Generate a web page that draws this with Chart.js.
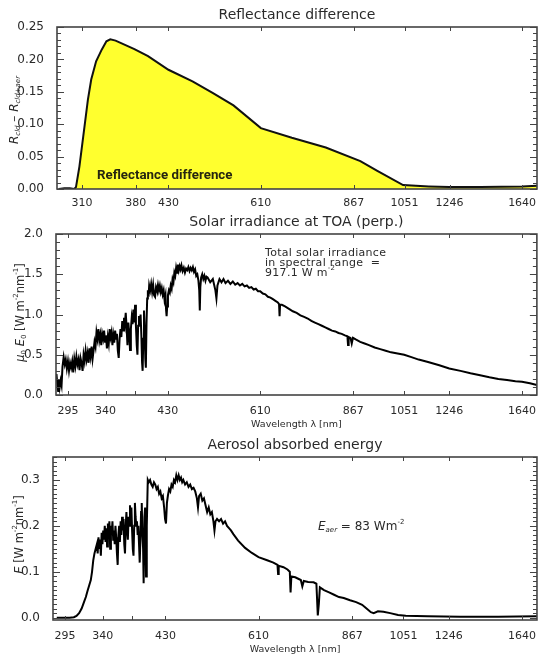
<!DOCTYPE html>
<html>
<head>
<meta charset="utf-8">
<script src="https://cdn.jsdelivr.net/npm/chart.js@4.4.1/dist/chart.umd.min.js"></script>
<style>
  body { margin: 0; background: #fff; }
  #wrap { position: relative; width: 538px; height: 655px; overflow: hidden; background: #fff; }
  canvas { position: absolute; left: 0; }
</style>
</head>
<body>
<div id="wrap">
  <canvas id="reflChart" width="538" height="210" style="top:0"></canvas>
  <canvas id="solarChart" width="538" height="225" style="top:205px"></canvas>
  <canvas id="aerChart" width="538" height="225" style="top:430px"></canvas>
</div>
<script>
// band centres used as x tick labels (nm)
const reflBands = [310, 380, 430, 610, 867, 1051, 1246, 1640];
const specBands = [295, 340, 380, 430, 610, 867, 1051, 1246, 1640];
const specLabels = ['295', '340', '', '430', '610', '867', '1051', '1246', '1640'];

// top panel: reflectance difference R_cld - R_cld+aer
const reflWl  = [284, 290, 296, 301, 303, 307, 313, 317, 321, 327, 334, 340, 345, 352, 378, 398, 430, 471, 509, 550, 610, 686, 780, 889, 948, 1045, 1152, 1245, 1400, 1640, 1735];
const reflVal = [0.000, 0.001, 0.001, 0.000, 0.003, 0.035, 0.097, 0.138, 0.169, 0.197, 0.215, 0.228, 0.231, 0.229, 0.216, 0.205, 0.184, 0.166, 0.148, 0.129, 0.094, 0.079, 0.064, 0.043, 0.028, 0.006, 0.004, 0.003, 0.003, 0.004, 0.005];

// middle panel: solar irradiance at TOA (W m-2 nm-1)
const solarWl = [
    282.5, 283.5, 284.3, 285.2, 286.0, 287.0, 288.0, 289.0, 290.3, 291.5, 292.6, 293.8, 295.0, 296.2, 297.4, 298.6, 299.8,
    301.0, 302.2, 303.4, 304.6, 305.8, 307.0, 308.2, 309.4, 310.6, 311.8, 313.0, 314.2, 315.4, 316.6, 317.8, 319.0,
    320.2, 321.4, 322.6, 323.8, 325.0, 326.2, 327.4, 328.6, 329.8, 331.0, 332.2, 333.4, 334.6, 335.8, 337.0, 338.2,
    339.4, 340.6, 341.8, 343.0, 344.2, 345.4, 346.6, 347.8, 349.0, 350.2, 351.4, 352.6, 353.8, 355.0, 356.2, 357.4,
    358.6, 359.8, 361.0, 362.2, 363.4, 364.6, 365.8, 367.0, 368.2, 369.4, 370.6, 371.8, 373.0, 374.2, 375.4, 376.6,
    377.8, 379.0, 380.2, 381.4, 382.6, 383.6, 384.6, 385.8, 387.0, 388.2, 389.4, 390.4, 391.2, 392.2, 393.2, 394.2,
    395.2, 396.0, 397.0, 398.0, 399.0, 400.0, 401.0, 402.5, 404.0, 405.5, 407.0, 408.5, 410.0, 411.5, 413.0, 414.5,
    416.0, 417.5, 419.0, 420.5, 422.0, 423.5, 425.0, 426.5, 427.5, 428.3, 429.2, 430.5, 432.0, 433.5, 435.0, 436.5,
    438.0, 439.5, 441.0, 442.5, 444.0, 445.5, 447.0, 448.5, 450.0, 451.5, 453.0, 455.0, 457.0, 459.0, 461.0, 463.0,
    465.0, 467.0, 469.0, 471.0, 473.0, 475.0, 477.0, 479.0, 481.0, 483.0, 484.5, 485.5, 486.5, 488.0, 490.0, 492.0,
    494.0, 496.0, 498.0, 500, 505, 510, 515, 517, 519, 523, 527, 531, 535, 540, 545, 550, 555, 560, 565, 570, 575,
    580, 585, 590, 595, 600, 605, 610, 616, 622, 628, 634, 640, 646, 652, 655, 656.3, 657.5, 662, 670, 680, 690, 700,
    710, 720, 730, 740, 750, 760, 770, 780, 790, 800, 810, 820, 830, 840, 848, 850, 852, 858, 862, 866, 875, 890,
    905, 920, 940, 960, 980, 1000, 1025, 1051, 1080, 1110, 1150, 1200, 1246, 1300, 1350, 1400, 1450, 1500, 1550,
    1600, 1640, 1690, 1735];
const solarVal = [
    0.26, 0.12, 0.05, 0.20, 0.10, 0.18, 0.12, 0.35, 0.47, 0.38, 0.44, 0.33, 0.42, 0.30, 0.40, 0.34, 0.42,
    0.28, 0.45, 0.36, 0.48, 0.38, 0.44, 0.31, 0.46, 0.40, 0.30, 0.50, 0.42, 0.55, 0.44, 0.52, 0.40,
    0.58, 0.48, 0.60, 0.45, 0.55, 0.66, 0.60, 0.78, 0.70, 0.82, 0.68, 0.75, 0.62, 0.76, 0.70, 0.80,
    0.66, 0.74, 0.58, 0.72, 0.64, 0.82, 0.72, 0.78, 0.62, 0.74, 0.65, 0.80, 0.70, 0.76, 0.55, 0.46,
    0.70, 0.82, 0.72, 0.92, 0.80, 0.96, 0.88, 1.02, 0.84, 0.62, 0.90, 0.78, 0.56, 0.82, 0.96, 0.88,
    1.06, 0.90, 1.12, 0.86, 0.62, 0.50, 0.86, 0.98, 0.88, 1.00, 0.72, 0.40, 0.30, 0.70, 1.05, 0.80,
    0.45, 0.34, 0.90, 1.20, 1.30, 1.22, 1.36, 1.30, 1.38, 1.28, 1.37, 1.24, 1.22, 1.34, 1.30, 1.37,
    1.30, 1.36, 1.28, 1.33, 1.25, 1.30, 1.18, 1.24, 1.05, 0.98, 1.10, 1.24, 1.30, 1.27, 1.36, 1.32,
    1.44, 1.40, 1.52, 1.48, 1.58, 1.52, 1.62, 1.55, 1.60, 1.56, 1.61, 1.54, 1.58, 1.52, 1.57, 1.55,
    1.59, 1.54, 1.58, 1.55, 1.59, 1.53, 1.56, 1.48, 1.50, 1.42, 1.30, 1.05, 1.34, 1.46, 1.50, 1.44,
    1.48, 1.42, 1.47, 1.46, 1.40, 1.44, 1.30, 1.20, 1.36, 1.44, 1.40, 1.44, 1.39, 1.42, 1.38, 1.41, 1.37, 1.39, 1.36, 1.38, 1.35,
    1.36, 1.33, 1.34, 1.31, 1.32, 1.29, 1.29, 1.26, 1.25, 1.22, 1.21, 1.19, 1.17, 1.15, 1.13, 0.98, 1.12, 1.12, 1.10, 1.07, 1.04, 1.02,
    0.99, 0.97, 0.95, 0.92, 0.90, 0.88, 0.86, 0.84, 0.82, 0.80, 0.79, 0.77, 0.76, 0.74, 0.73, 0.62, 0.72, 0.71, 0.64, 0.71, 0.69, 0.66,
    0.64, 0.62, 0.59, 0.57, 0.55, 0.53, 0.515, 0.50, 0.47, 0.44, 0.41, 0.37, 0.33, 0.30, 0.27, 0.245, 0.22, 0.20, 0.185,
    0.17, 0.165, 0.145, 0.125];

// bottom panel: aerosol absorbed energy (W m-2 nm-1)
const aerWl = [
    286, 300, 305, 308, 311, 314, 317, 319, 321, 323, 325, 326.5, 328, 329.5, 331, 332.5, 333.5, 334.5, 335.5,
    336.5, 337.5, 338.5, 339.5, 340.5, 341.5, 342.5, 343.5, 344.5, 345.5, 346.5, 347.5, 348.5, 349.5, 350.5,
    351.5, 352.5, 353.5, 354.5, 355.5, 356.5, 357.5, 358.5, 359.5, 360.5, 361.5, 362.5, 363.5, 364.5, 365.5,
    366.5, 367.5, 368.5, 369.5, 370.5, 371.5, 372.5, 373.5, 374.5, 375.5, 376.5, 377.5, 378.5, 379.5, 380.5,
    381.5, 382.5, 383.5, 384.5, 385.5, 386.5, 387.5, 388.5, 389.5, 390.5, 391.5, 392.5, 393.5, 394.5, 395.5,
    396.3, 397.5, 398.5, 399.9, 401.0, 402.5, 404, 406, 408, 410, 412, 414, 416, 418, 420, 422, 424, 426, 428,
    429.5, 431, 432.5, 434, 436, 438, 440, 442, 444, 446, 448, 450, 452, 454, 456, 458, 460, 463, 466, 469, 472,
    475, 478, 481, 484, 486, 488, 491, 494, 497, 500, 503, 506, 509, 512, 515, 517, 519, 522, 526, 530, 534, 538,
    542, 546, 550, 555, 560, 565, 580, 595, 610, 630, 645, 655, 656.5, 658, 670, 680, 686, 688, 690, 700, 715,
    719, 723, 735, 750, 758, 760, 762, 765, 768, 780, 795, 810, 825, 840, 860, 880, 900, 915, 930, 940, 955, 975,
    1000, 1030, 1060, 1150, 1300, 1500, 1735];
const aerVal = [
    0.000, 0.000, 0.001, 0.004, 0.010, 0.020, 0.035, 0.045, 0.058, 0.070, 0.082, 0.100, 0.125, 0.140, 0.150, 0.160, 0.140, 0.175, 0.150,
    0.170, 0.135, 0.185, 0.160, 0.190, 0.170, 0.200, 0.165, 0.195, 0.155, 0.205, 0.180, 0.210, 0.150, 0.200,
    0.180, 0.210, 0.170, 0.190, 0.160, 0.200, 0.175, 0.140, 0.115, 0.180, 0.200, 0.165, 0.210, 0.180, 0.220,
    0.190, 0.215, 0.160, 0.140, 0.200, 0.230, 0.190, 0.170, 0.220, 0.200, 0.245, 0.210, 0.240, 0.190, 0.150,
    0.135, 0.200, 0.250, 0.220, 0.200, 0.210, 0.180, 0.200, 0.160, 0.120, 0.170, 0.230, 0.250, 0.180, 0.150,
    0.075, 0.220, 0.240, 0.090, 0.200, 0.300, 0.295, 0.300, 0.290, 0.285, 0.295, 0.290, 0.280, 0.285, 0.270, 0.275, 0.260, 0.265, 0.240,
    0.215, 0.205, 0.250, 0.265, 0.280, 0.275, 0.290, 0.285, 0.300, 0.295, 0.310, 0.300, 0.310, 0.300, 0.305, 0.295, 0.300, 0.290, 0.295, 0.285, 0.290,
    0.280, 0.283, 0.275, 0.260, 0.240, 0.265, 0.270, 0.255, 0.260, 0.245, 0.230, 0.240, 0.225, 0.230, 0.210, 0.190, 0.210, 0.215, 0.210, 0.215, 0.205, 0.210,
    0.200, 0.195, 0.190, 0.182, 0.175, 0.168, 0.152, 0.141, 0.132, 0.125, 0.120, 0.115, 0.095, 0.113, 0.110, 0.105, 0.100, 0.055, 0.090, 0.088, 0.082,
    0.068, 0.080, 0.078, 0.077, 0.074, 0.040, 0.005, 0.030, 0.066, 0.060, 0.055, 0.050, 0.045, 0.043, 0.038, 0.034, 0.028, 0.020, 0.012, 0.010, 0.014, 0.013,
    0.010, 0.006, 0.004, 0.003, 0.002, 0.002, 0.003];

const AXIS_FONT = 'DejaVu Sans';
const INK = '#2a2a2a';

// box frame with inward tick marks, like the IDL plots
const framePlugin = {
    id: 'frame',
    afterDatasetsDraw(chart, args, opts) {
        const { ctx, chartArea: a, scales: { x, y } } = chart;
        ctx.save();
        ctx.strokeStyle = '#444';
        ctx.lineWidth = 1;
        ctx.beginPath();
        opts.xTicks.forEach(v => {
            const px = Math.round(x.getPixelForValue(v)) + 0.5;
            ctx.moveTo(px, a.bottom); ctx.lineTo(px, a.bottom - 4);
            ctx.moveTo(px, a.top); ctx.lineTo(px, a.top + 4);
        });
        const n = Math.round((opts.yMax - opts.yStart) / opts.yMinor);
        for (let i = 0; i <= n; i++) {
            const v = opts.yStart + i * opts.yMinor;
            const major = Math.abs(v / opts.yMajor - Math.round(v / opts.yMajor)) < 1e-6;
            const len = major ? 7 : 4;
            const py = Math.round(y.getPixelForValue(v)) + 0.5;
            ctx.moveTo(a.left, py); ctx.lineTo(a.left + len, py);
            ctx.moveTo(a.right, py); ctx.lineTo(a.right - len, py);
        }
        ctx.stroke();
        ctx.lineWidth = 1.6;
        ctx.strokeRect(a.left, a.top, a.right - a.left, a.bottom - a.top);
        ctx.restore();
    },
    afterDraw(chart, args, opts) {
        const { ctx, chartArea: a } = chart;
        ctx.save();
        ctx.fillStyle = INK;
        ctx.textAlign = 'center';
        ctx.textBaseline = 'middle';
        ctx.font = '14px "' + AXIS_FONT + '"';
        ctx.fillText(opts.title, (a.left + a.right) / 2, opts.titleY);
        drawRich(ctx, opts.yTitle, opts.yTitleX, (a.top + a.bottom) / 2 + (opts.yTitleShift || 0), opts.yTitleSize);
        (opts.notes || []).forEach(n => {
            ctx.textAlign = 'left';
            ctx.font = n.font;
            ctx.fillStyle = n.color || INK;
            ctx.letterSpacing = n.spacing || '0px';
            if (n.parts) drawRichFlat(ctx, n.parts, n.x, n.y, n.size);
            else ctx.fillText(n.text, n.x, n.y);
        });
        ctx.restore();
    }
};

function partFont(p, size) {
    const s = (p.sub || p.sup) ? Math.round(size * 0.62) : size;
    return (p.italic ? 'italic ' : '') + s + 'px "' + AXIS_FONT + '"';
}

function drawRichFlat(ctx, parts, x0, y0, size) {
    let x = x0;
    parts.forEach(p => {
        ctx.font = partFont(p, size);
        const dy = p.sub ? size * 0.3 : p.sup ? -size * 0.4 : 0;
        ctx.fillText(p.t, x, y0 + dy);
        x += ctx.measureText(p.t).width;
    });
}

function drawRich(ctx, parts, cx, cy, size) {
    ctx.save();
    ctx.translate(cx, cy);
    ctx.rotate(-Math.PI / 2);
    ctx.textAlign = 'left';
    let total = 0;
    parts.forEach(p => { ctx.font = partFont(p, size); total += ctx.measureText(p.t).width; });
    drawRichFlat(ctx, parts, -total / 2, 0, size);
    ctx.restore();
}

function xScale(bands, labels, withTitle, height, pad) {
    return {
        type: 'logarithmic',
        min: 282,
        max: 1735,
        afterBuildTicks: s => { s.ticks = bands.map(v => ({ value: v })); },
        afterFit: s => { s.height = height; },
        grid: { display: false },
        border: { display: false },
        ticks: {
            autoSkip: false,
            maxRotation: 0,
            padding: pad,
            color: INK,
            font: { family: AXIS_FONT, size: 11 },
            callback: (v, i) => labels[i]
        },
        title: {
            display: withTitle,
            text: 'Wavelength λ [nm]',
            color: INK,
            font: { family: AXIS_FONT, size: 9.5 },
            padding: { top: 0, bottom: 0 }
        }
    };
}

function yScale(min, max, ticks, decimals, width) {
    return {
        min: min,
        max: max,
        afterBuildTicks: s => { s.ticks = ticks.map(v => ({ value: v })); },
        afterFit: s => { s.width = width; },
        grid: { display: false },
        border: { display: false },
        ticks: {
            padding: 5,
            color: INK,
            font: { family: AXIS_FONT, size: 12 },
            callback: v => v.toFixed(decimals)
        }
    };
}

function pts(wl, vals) {
    return wl.map((w, i) => ({ x: w, y: vals[i] }));
}

function makeChart(id, cfg) {
    return new Chart(document.getElementById(id), {
        type: 'line',
        data: { datasets: [cfg.dataset] },
        options: {
            responsive: false,
            animation: false,
            events: [],
            layout: { padding: { top: cfg.top, right: 1, left: 0, bottom: 0 } },
            plugins: { legend: { display: false }, tooltip: { enabled: false }, frame: cfg.frame },
            scales: { x: cfg.x, y: cfg.y },
            elements: { point: { radius: 0 }, line: { tension: 0 } }
        },
        plugins: [framePlugin]
    });
}

makeChart('reflChart', {
    top: 27,
    dataset: {
        data: pts(reflWl, reflVal),
        borderColor: '#111',
        borderWidth: 2,
        backgroundColor: '#ffff2e',
        fill: 'origin'
    },
    x: xScale(reflBands, reflBands.map(String), false, 21, 0),
    y: yScale(0, 0.25, [0, 0.05, 0.10, 0.15, 0.20, 0.25], 2, 57),
    frame: {
        title: 'Reflectance difference', titleY: 15,
        xTicks: reflBands, yStart: 0, yMax: 0.25, yMajor: 0.05, yMinor: 0.01,
        yTitleX: 15, yTitleSize: 12, yTitleShift: 2,
        yTitle: [{ t: 'R', italic: true }, { t: 'cld', italic: true, sub: true }, { t: ' \u2013 ' }, { t: 'R', italic: true }, { t: 'cld+aer', italic: true, sub: true }],
        notes: [{ text: 'Reflectance difference', x: 97, y: 176, font: 'bold 13.3px Roboto', color: '#262610' }]
    }
});

makeChart('solarChart', {
    top: 29,
    dataset: {
        data: pts(solarWl, solarVal),
        borderColor: '#000',
        borderWidth: 2,
        fill: false
    },
    x: xScale(specBands, specLabels, true, 35, 2),
    y: yScale(0, 2.0, [0, 0.5, 1.0, 1.5, 2.0], 1, 56),
    frame: {
        title: 'Solar irradiance at TOA (perp.)', titleY: 17,
        xTicks: specBands, yStart: 0, yMax: 2.0, yMajor: 0.5, yMinor: 0.1,
        yTitleX: 21, yTitleSize: 11.5, yTitleShift: -2,
        yTitle: [{ t: '\u03bc', italic: true }, { t: '0', sub: true }, { t: ' E', italic: true }, { t: '0', sub: true }, { t: ' [W m' }, { t: '-2', sup: true }, { t: 'nm' }, { t: '-1', sup: true }, { t: ']' }],
        notes: [
            { text: 'Total solar irradiance', x: 265, y: 48, font: '11px "DejaVu Sans"', spacing: '0.3px' },
            { text: 'in spectral range  =', x: 265, y: 58, font: '11px "DejaVu Sans"', spacing: '0.3px' },
            { parts: [{ t: '917.1 W m' }, { t: '-2', sup: true }], x: 265, y: 68, size: 11, font: '11px "DejaVu Sans"', spacing: '0.3px' }
        ]
    }
});

makeChart('aerChart', {
    top: 27,
    dataset: {
        data: pts(aerWl, aerVal),
        borderColor: '#000',
        borderWidth: 2,
        fill: false
    },
    x: xScale(specBands, specLabels, true, 35, 2),
    y: yScale(-0.005, 0.35, [0, 0.1, 0.2, 0.3], 1, 53),
    frame: {
        title: 'Aerosol absorbed energy', titleY: 15,
        xTicks: specBands, yStart: 0, yMax: 0.35, yMajor: 0.1, yMinor: 0.01,
        yTitleX: 20, yTitleSize: 11.5, yTitleShift: -4,
        yTitle: [{ t: 'E', italic: true }, { t: ' [W m' }, { t: '-2', sup: true }, { t: 'nm' }, { t: '-1', sup: true }, { t: ']' }],
        notes: [
            { parts: [{ t: 'E', italic: true }, { t: 'aer', italic: true, sub: true }, { t: ' = 83 Wm' }, { t: '-2', sup: true }], x: 318, y: 97, size: 12, font: '12px "DejaVu Sans"' }
        ]
    }
});
</script>
</body>
</html>
